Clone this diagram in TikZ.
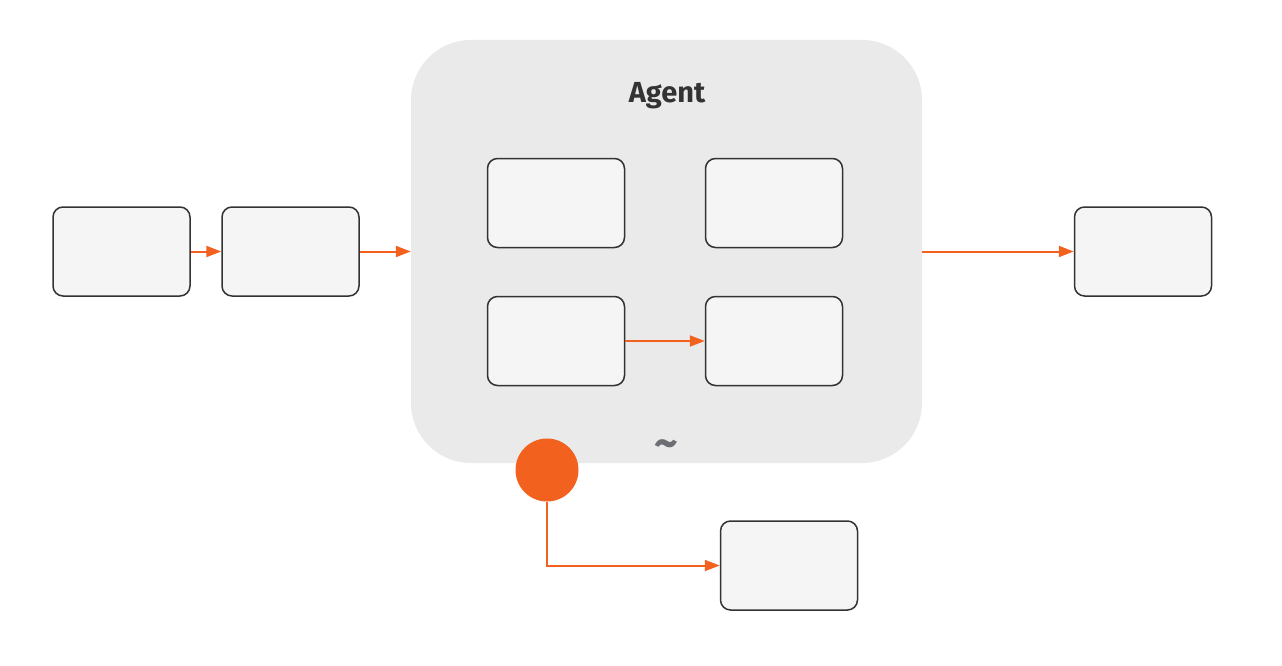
\documentclass[tikz,border=0pt]{standalone}
\usepackage{fontspec}
\setmainfont{Fira Sans}
\usetikzlibrary{arrows.meta}
\definecolor{agentgray}{HTML}{EAEAEA}
\definecolor{boxgray}{HTML}{F5F5F5}
\definecolor{edgegray}{HTML}{333333}
\definecolor{flow}{HTML}{F2611D}
\definecolor{tildegray}{HTML}{6B6F73}
\begin{document}
\begin{tikzpicture}[x=1pt,y=-1pt,
    block/.style={draw=edgegray,fill=boxgray,line width=1.5pt,rounded corners=10pt,
      minimum width=137pt,minimum height=89pt,inner sep=0pt},
    flowline/.style={draw=flow,line width=2pt,-{Triangle[length=15pt,width=11pt]}}]
      \useasboundingbox (0,0) rectangle (1282,666);
      \node[fill=agentgray,rounded corners=60pt,minimum width=511pt,minimum height=423pt,inner sep=0pt]
        (agent) at (666.5,251.5) {};
      \node[text=edgegray,font=\fontsize{29}{32}\selectfont\bfseries] (title) at (667,96) {Agent};
      \node[text=tildegray,font=\fontsize{46}{46}\selectfont\bfseries] (tilde) at (666,449) {\~{}};
      \draw
        (121.5,251.5) node[block] (in){}
        (290.5,251.5) node[block] (pre){}
        (556,203) node[block] (m1){}
        (774,203) node[block] (m2){}
        (556,341) node[block] (m3){}
        (774,341) node[block] (m4){}
        (1143,251.5) node[block] (out){}
        (789,565.5) node[block] (ret){};
      \node[circle,fill=flow,minimum size=63pt,inner sep=0pt] (hook) at (547,470) {};
      \begin{scope}[flowline]
        \draw (in) to (pre);
        \draw (pre) to (agent.west |- pre);
        \draw (m3) to (m4);
        \draw (agent.east |- out) to (out);
        \draw (hook.south) |- (ret.west);
      \end{scope}
    \end{tikzpicture}
\end{document}
